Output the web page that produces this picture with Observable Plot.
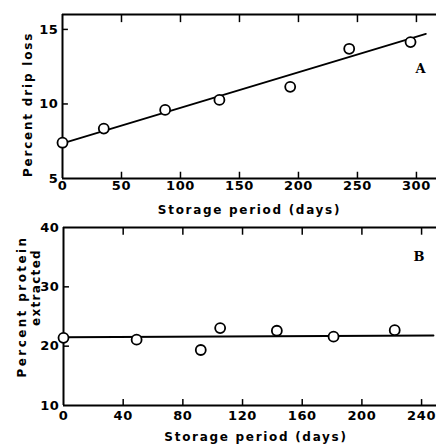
<!DOCTYPE html>
<html>
<head>
<meta charset="utf-8">
<script src="https://cdn.jsdelivr.net/npm/d3@7"></script>
<script src="https://cdn.jsdelivr.net/npm/@observablehq/plot@0.6"></script>
<style>
  html, body { margin: 0; padding: 0; background: #fff; }
  #chart { width: 436px; height: 447px; overflow: hidden; }
  #chart svg { display: block; }
  #chart svg text { font-weight: 700 !important; font-family: "DejaVu Sans", sans-serif; }
  #chart svg text.serif { font-family: "DejaVu Serif", serif !important; }
</style>
</head>
<body>
<div id="chart"></div>
<script>
// Panel A: drip loss
const daysA = [0, 35, 87, 133, 193, 243, 295];
const dripLoss = [7.4, 8.35, 9.6, 10.27, 11.15, 13.7, 14.15];
const fitDaysA = [0, 308];
const fitDripLoss = [7.35, 14.7];
const xTicksA = [0, 50, 100, 150, 200, 250, 300];
const yTicksA = [5, 10, 15];

// Panel B: protein extracted
const daysB = [0, 49, 92, 105, 143, 181, 222];
const protein = [21.4, 21.1, 19.35, 23.05, 22.6, 21.6, 22.7];
const fitDaysB = [0, 248];
const fitProtein = [21.5, 21.8];
const xTicksB = [0, 40, 80, 120, 160, 200, 240];
const yTicksB = [10, 20, 30, 40];

const xLabel = "Storage period (days)";
const yLabelA = "Percent drip loss";
const yLabelB1 = "Percent protein";
const yLabelB2 = "extracted";

const font = {fontFamily: "DejaVu Sans", fontWeight: "bold", fontSize: "12px", background: "transparent", overflow: "visible"};

function panel({width, height, mt, mb, ml, xDom, yDom, xs, ys, fx, fy, xTicks, yTicks, tickLenX, tickLenY, padX, extra}) {
  const pts = xs.map((x, i) => ({x, y: ys[i]}));
  const fit = fx.map((x, i) => ({x, y: fy[i]}));
  const inner = xTicks.filter(t => t > xDom[0]);
  const innerY = yTicks.filter(t => t > yDom[0] && t < yDom[1]);
  return Plot.plot({
    width, height,
    marginTop: mt, marginBottom: mb, marginLeft: ml, marginRight: 0,
    style: font,
    x: {domain: xDom},
    y: {domain: yDom},
    marks: [
      Plot.axisX(xTicks, {tickSize: 0, tickPadding: padX, label: null, fontSize: 13, fontWeight: "bold", fill: "#000"}),
      Plot.axisY(yTicks, {tickSize: 0, tickPadding: 4, label: null, fontSize: 13, fontWeight: "bold", fill: "#000"}),
      Plot.ruleY([yDom[0]], {stroke: "#000", strokeWidth: 2}),
      Plot.ruleY([yDom[1]], {stroke: "#000", strokeWidth: 2}),
      Plot.ruleX([xDom[0]], {stroke: "#000", strokeWidth: 2}),
      Plot.ruleX(inner, {x: d => d, y1: yDom[0], y2: yDom[0] + tickLenY, stroke: "#000", strokeWidth: 1.5}),
      Plot.ruleX(inner, {x: d => d, y1: yDom[1], y2: yDom[1] - tickLenY * 1.3, stroke: "#000", strokeWidth: 1.5}),
      Plot.ruleY(innerY, {y: d => d, x1: xDom[0], x2: xDom[0] + tickLenX, stroke: "#000", strokeWidth: 1.5}),
      Plot.line(fit, {x: "x", y: "y", stroke: "#000", strokeWidth: 1.8}),
      Plot.dot(pts, {x: "x", y: "y", r: 5, stroke: "#000", strokeWidth: 1.8, fill: "#fff"}),
      ...extra
    ]
  });
}

const lab = {fontSize: 12, fontWeight: "bold", fill: "#000", textAnchor: "middle", lineAnchor: "middle"};

const svgA = panel({
  width: 436, height: 220, mt: 14, mb: 42, ml: 62,
  xDom: [0, 317], yDom: [5, 16],
  xs: daysA, ys: dripLoss, fx: fitDaysA, fy: fitDripLoss,
  xTicks: xTicksA, yTicks: yTicksA, tickLenX: 5, tickLenY: 0.42, padX: 2,
  extra: [
    Plot.text([xLabel], {frameAnchor: "bottom", dy: 32, ...lab}),
    Plot.text([yLabelA], {frameAnchor: "left", dx: -34, dy: 8, rotate: -90, ...lab}),
    Plot.text(["A"], {frameAnchor: "top-right", dx: -11, dy: 49, fontSize: 13, fill: "#000"})
  ]
});

const svgB = panel({
  width: 436, height: 227, mt: 7, mb: 42, ml: 63,
  xDom: [0, 250], yDom: [10, 40],
  xs: daysB, ys: protein, fx: fitDaysB, fy: fitProtein,
  xTicks: xTicksB, yTicks: yTicksB, tickLenX: 4, tickLenY: 1.0, padX: 5,
  extra: [
    Plot.text([xLabel], {frameAnchor: "bottom", dy: 32, dx: 6, ...lab}),
    Plot.text([yLabelB1], {frameAnchor: "left", dx: -41, dy: -10, rotate: -90, ...lab}),
    Plot.text([yLabelB2], {frameAnchor: "left", dx: -27, dy: -29, rotate: -90, ...lab}),
    Plot.text(["B"], {frameAnchor: "top-right", dx: -12, dy: 24, fontSize: 13, fill: "#000"})
  ]
});

const spacing = {[xLabel]: "1.7px", [yLabelA]: "1.8px", [yLabelB1]: "2.4px", [yLabelB2]: "1.3px"};
for (const svg of [svgA, svgB]) {
  d3.select(svg).selectAll("text").each(function () {
    const t = this.textContent;
    const s = spacing[t];
    if (s) this.style.letterSpacing = s;
    if (t === "A" || t === "B") this.classList.add("serif");
  });
  d3.select(svg).selectAll("g[aria-label='x-axis tick label'] text, g[aria-label='y-axis tick label'] text")
    .style("letter-spacing", "0.6px");
}

document.getElementById("chart").append(svgA, svgB);
</script>
</body>
</html>
